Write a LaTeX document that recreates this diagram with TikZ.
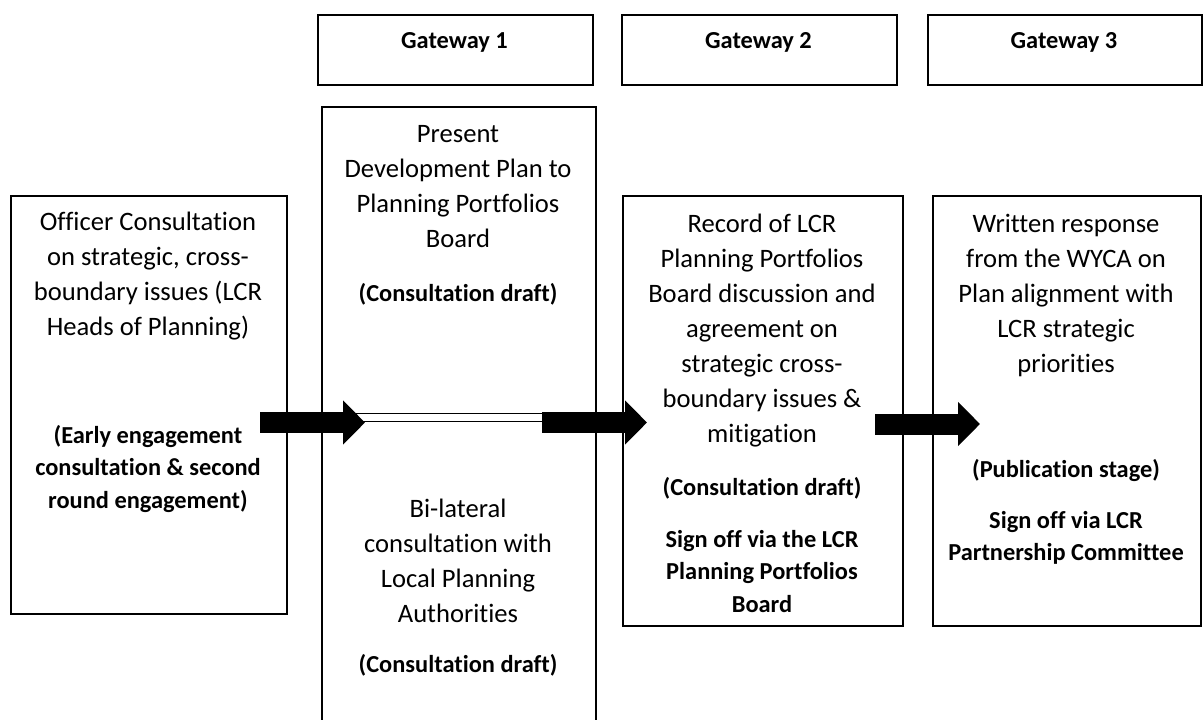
\documentclass[tikz,border=0pt]{standalone}
\usepackage{fontspec}
\setmainfont{Carlito}[Ligatures=NoCommon]
\usetikzlibrary{arrows.meta}

\tikzset{
    boxnode/.style={rectangle, draw=black, line width=0.8pt, anchor=north west, inner sep=0pt},
    plaintxt/.style={anchor=north, inner sep=0pt, align=center, font=\fontsize{13.3}{17.5}\selectfont},
    boldtxt/.style={anchor=north, inner sep=0pt, align=center, font=\fontsize{12.2}{16.25}\selectfont\bfseries},
    blockarrow/.style={line width=10.5pt, -{Triangle[length=11pt,width=21.5pt]}},
    thinlink/.style={double, double distance=3.3pt, line width=0.6pt}
}

\begin{document}
\begin{tikzpicture}[x=0.5pt,y=-0.5pt]

\useasboundingbox (0,0) rectangle (1203,719);

%%%%%%%%%%%%%%%%%%%% Gateways %%%%%%%%%%%%%%%%%%%%%%%%%%

\node[boxnode, minimum width=137.5pt, minimum height=35pt] (g1) at (317,14) {};
\node[boxnode, minimum width=137.5pt, minimum height=35pt] (g2) at (621,14) {};
\node[boxnode, minimum width=137pt, minimum height=35pt] (g3) at (927,14) {};

\foreach \index/\xpos in {1/454.5, 2/758.5, 3/1064}
{
    \node[boldtxt] (gt\index) at (\xpos,25.25) {\strut Gateway \index};
}

%%%%%%%%%%%%%%%%%%%% Stage boxes %%%%%%%%%%%%%%%%%%%%%%%%%%

\node[boxnode, minimum width=138pt, minimum height=209pt] (b1) at (10,195) {};
\node[boxnode, minimum width=137pt, minimum height=320pt] (b2) at (321,106) {};
\node[boxnode, minimum width=140pt, minimum height=215pt] (b3) at (622,195) {};
\node[boxnode, minimum width=134pt, minimum height=215pt] (b4) at (932,195) {};

%officer consultation
\node[plaintxt] (t1) at (148,205.5) {\strut Officer Consultation\\on strategic, cross-\\boundary issues (LCR\\Heads of Planning)};
\node[boldtxt] (s1) at (148,420.25) {\strut (Early engagement\\consultation \& second\\round engagement)};

%gateway 1 column
\node[plaintxt] (t2) at (458,117.5) {\strut Present\\Development Plan to\\Planning Portfolios\\Board};
\node[boldtxt] (s2) at (458,278.25) {\strut (Consultation draft)};
\node[plaintxt] (t2b) at (458,492.5) {\strut Bi-lateral\\consultation with\\Local Planning\\Authorities};
\node[boldtxt] (s2b) at (458,649.25) {\strut (Consultation draft)};

%gateway 2 column
\node[plaintxt] (t3) at (762,207.5) {\strut Record of LCR\\Planning Portfolios\\Board discussion and\\agreement on\\strategic cross-\\boundary issues \&\\mitigation};
\node[boldtxt] (s3) at (762,472.25) {\strut (Consultation draft)};
\node[boldtxt] (s3b) at (762,524.25) {\strut Sign off via the LCR\\Planning Portfolios\\Board};

%gateway 3 column
\node[plaintxt] (t4) at (1066,207.5) {\strut Written response\\from the WYCA on\\Plan alignment with\\LCR strategic\\priorities};
\node[boldtxt] (s4) at (1066,454.25) {\strut (Publication stage)};
\node[boldtxt] (s4b) at (1066,505.25) {\strut Sign off via LCR\\Partnership Committee};

%%%%%%%%%%%%%%%%%%%% Arrows %%%%%%%%%%%%%%%%%%%%%%%%%%

\coordinate (a1s) at (260,422.5);
\coordinate (a1e) at (365,422.5);
\coordinate (a2s) at (542,422.5);
\coordinate (a2e) at (647,422.5);
\coordinate (a3s) at (875,424);
\coordinate (a3e) at (980,424);
\coordinate (l1s) at (345,417.5);
\coordinate (l1e) at (542,417.5);

\draw[thinlink] (l1s) -- (l1e);

\foreach \index in {1,2,3}
{
    \draw[blockarrow] (a\index s) -- (a\index e);
}

\end{tikzpicture}
\end{document}
